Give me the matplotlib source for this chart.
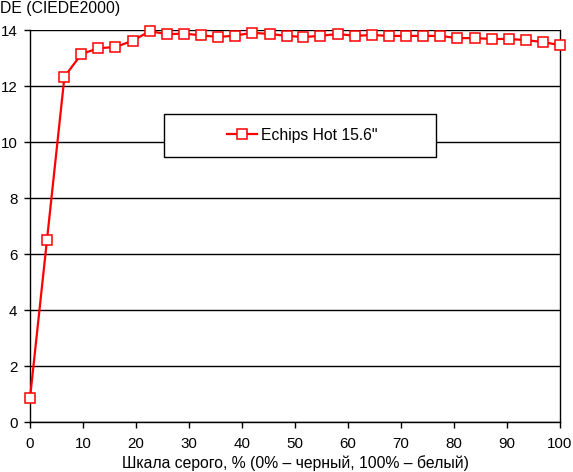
import matplotlib
matplotlib.use("Agg")
import matplotlib.pyplot as plt
from matplotlib.patches import Rectangle

plt.rcParams['font.family'] = ['Liberation Sans', 'DejaVu Sans']

gray_pct = [0.0, 3.2, 6.5, 9.7, 12.9, 16.1, 19.4, 22.6, 25.8, 29.0, 32.3,
            35.5, 38.7, 41.9, 45.2, 48.4, 51.6, 54.8, 58.1, 61.3, 64.5,
            67.7, 71.0, 74.2, 77.4, 80.6, 83.9, 87.1, 90.3, 93.5, 96.8, 100.0]
de_values = [0.85, 6.5, 12.33, 13.14, 13.35, 13.39, 13.62, 13.96, 13.85, 13.87,
             13.81, 13.75, 13.8, 13.9, 13.86, 13.79, 13.75, 13.79, 13.86, 13.79,
             13.82, 13.79, 13.79, 13.79, 13.79, 13.71, 13.71, 13.68, 13.68,
             13.64, 13.57, 13.46]
series_name = 'Echips Hot 15.6"'
x_ticks = [0, 10, 20, 30, 40, 50, 60, 70, 80, 90, 100]
y_ticks = [0, 2, 4, 6, 8, 10, 12, 14]
y_title = "DE (CIEDE2000)"
x_title = "Шкала серого, % (0% – черный, 100% – белый)"

FS = 11.3
TFS = 10.9
fig = plt.figure(figsize=(5.73, 4.72), dpi=100)
ax = fig.add_axes([30/573, 50/472, 530/573, 392/472])
ax.set_xlim(0, 100)
ax.set_ylim(0, 14)
ax.set_xticks(x_ticks)
ax.set_yticks(y_ticks)
ax.tick_params(axis='both', labelsize=TFS, length=4.5, width=1, color='black',
               direction='out')
ax.tick_params(axis='y', pad=4.5)
ax.tick_params(axis='x', pad=6)
ax.grid(axis='y', color='black', linewidth=1)
ax.set_axisbelow(True)
for s in ['left', 'right', 'bottom']:
    ax.spines[s].set_color('black')
    ax.spines[s].set_linewidth(1)
ax.spines['top'].set_visible(False)

ax.plot(gray_pct, de_values, color='#ff0000', linewidth=1.6, marker='s',
        markersize=6.8, markerfacecolor='white', markeredgecolor='#ff0000',
        markeredgewidth=1.1, clip_on=False, zorder=6, label=series_name)

ax.add_patch(Rectangle((0.2528, 0.676), 0.514, 0.110, transform=ax.transAxes,
                       facecolor='white', edgecolor='black', linewidth=1,
                       zorder=7))
ax.legend(loc='center', bbox_to_anchor=(0.513, 0.731), frameon=False,
          fontsize=FS, handlelength=1.9, handletextpad=0.25).set_zorder(8)

fig.text(0, 1 - 1/472, y_title, ha='left', va='top', fontsize=FS)
fig.text(295/573, 9/472, x_title, ha='center', va='center', fontsize=FS)

fig.savefig('out.png', dpi=100)
